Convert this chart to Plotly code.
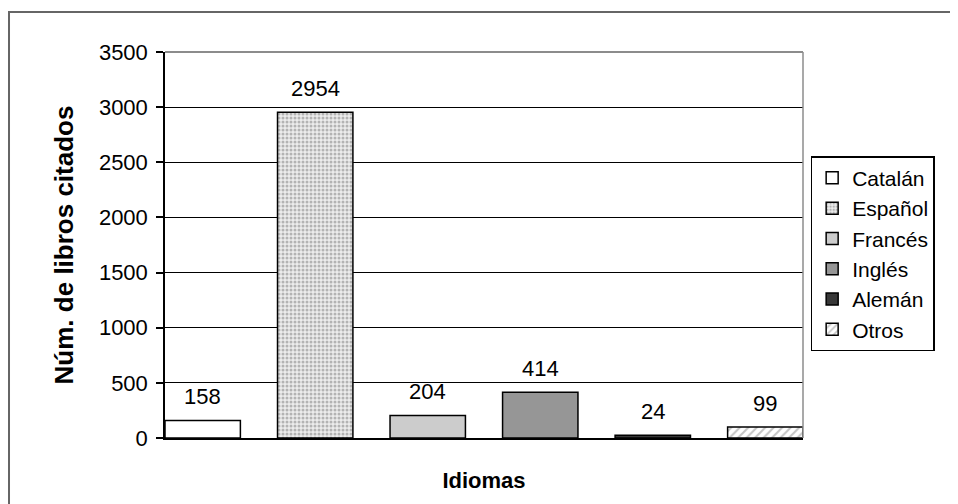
import plotly.graph_objects as go

categories = ["Catalán", "Español", "Francés", "Inglés", "Alemán", "Otros"]
values = [158, 2954, 204, 414, 24, 99]
fill_colors = ["#ffffff", "#e6e6e6", "#cccccc", "#969696", "#383838", "#ffffff"]
patterns = ["", ".", "", "", "", "/"]
y_ticks = [0, 500, 1000, 1500, 2000, 2500, 3000, 3500]

FONT = "Liberation Sans, Arial, sans-serif"

fig = go.Figure()
for i, (cat, val) in enumerate(zip(categories, values)):
    marker = dict(color=fill_colors[i], line=dict(color="black", width=1.5))
    if patterns[i] == ".":
        marker["pattern"] = dict(shape=".", fgcolor="#7a7a7a", bgcolor="#ececec", size=4, solidity=0.45)
    elif patterns[i] == "/":
        marker["pattern"] = dict(shape="/", fgcolor="#8a8a8a", bgcolor="#ffffff", size=6, solidity=0.35)
    fig.add_trace(go.Bar(
        x=[cat], y=[val], name=cat, width=0.67, marker=marker, hoverinfo="skip",
    ))
    fig.add_annotation(
        x=cat, y=val, text=str(val), showarrow=False, yanchor="middle", yshift=24,
        font=dict(family=FONT, size=22, color="black"),
    )

# the page adds an 8px body margin, so the figure is sized to the visible window
fig.update_layout(
    width=950, height=496,
    margin=dict(l=157, r=155, t=44, b=66),
    paper_bgcolor="white", plot_bgcolor="white",
    barmode="overlay",
    font=dict(family=FONT, size=22, color="black"),
    legend=dict(
        x=1.012, xanchor="left", y=0.73, yanchor="top",
        bordercolor="black", borderwidth=1.5, bgcolor="white",
        font=dict(family=FONT, size=21, color="black"),
        tracegroupgap=0, traceorder="normal",
    ),
    showlegend=True,
)

fig.update_xaxes(
    type="category", categoryorder="array", categoryarray=categories,
    range=[-0.335, 5.335], showticklabels=False, ticks="",
    showline=True, linecolor="black", linewidth=2, showgrid=False, zeroline=False,
    title=dict(text="<b>Idiomas</b>", font=dict(family=FONT, size=22), standoff=34),
)
fig.update_yaxes(
    range=[0, 3500], tickvals=y_ticks, ticktext=[str(v) for v in y_ticks],
    showgrid=True, gridcolor="black", gridwidth=1,
    showline=True, linecolor="black", linewidth=1.5,
    ticks="outside", ticklen=7, tickcolor="black", tickwidth=1.5,
    tickfont=dict(family=FONT, size=22), ticklabelstandoff=4,
    zeroline=False,
    title=dict(text="<b>Núm. de libros citados</b>", font=dict(family=FONT, size=26), standoff=18),
)

# plot area frame (top and right, gray)
fig.add_shape(type="line", xref="paper", yref="paper", x0=0, x1=1, y0=1, y1=1,
              line=dict(color="#8c8c8c", width=2), layer="above")
fig.add_shape(type="line", xref="paper", yref="paper", x0=1, x1=1, y0=0, y1=1,
              line=dict(color="#8c8c8c", width=1.5), layer="above")
# outer chart frame
fig.add_shape(type="rect", xref="paper", yref="paper",
              x0=-0.2445, x1=1.26, y0=-0.19, y1=1.1036,
              line=dict(color="#666666", width=2), fillcolor="rgba(0,0,0,0)", layer="below")

fig.write_html("out.html")
